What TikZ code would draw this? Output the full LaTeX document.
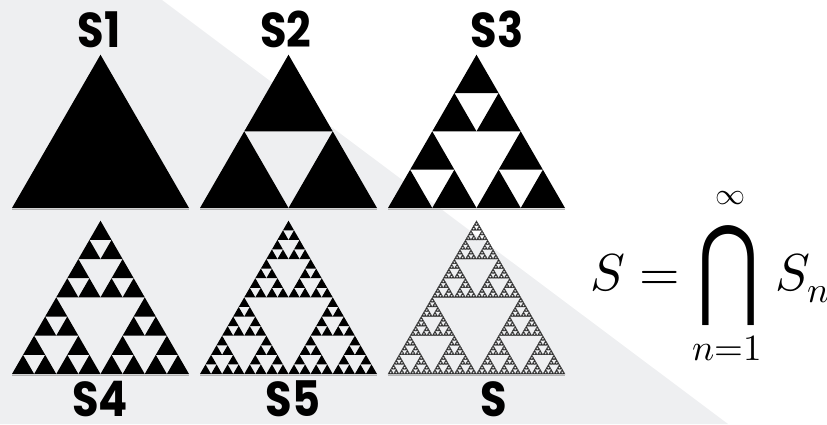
\documentclass[tikz,border=0pt]{standalone}
\usepackage{fontspec}
\usepackage{unicode-math}
\usepackage{tikz}
\newfontfamily\lblfont[FakeStretch=0.88]{Poppins}
\newfontfamily\symfont{DejaVu Sans}
\definecolor{shadegray}{RGB}{238,239,241}

% gasket: depth, left x, base y, side
\newcommand\gasket[4]{%
  \ifnum#1<1\relax
    \fill (#2,#3) -- ++(#4,0) -- ++(120:#4) -- cycle;
  \else
    \begingroup
    \pgfmathtruncatemacro\gdep{#1-1}%
    \pgfmathsetmacro\gside{#4/2}%
    \pgfmathsetmacro\gxr{#2+#4/2}%
    \pgfmathsetmacro\gxt{#2+#4/4}%
    \pgfmathsetmacro\gyt{#3+#4*0.4330127}%
    \edef\gnext{%
      \noexpand\gasket{\gdep}{#2}{#3}{\gside}%
      \noexpand\gasket{\gdep}{\gxr}{#3}{\gside}%
      \noexpand\gasket{\gdep}{\gxt}{\gyt}{\gside}}%
    \gnext
    \endgroup
  \fi}

\begin{document}
\begin{tikzpicture}[
    x=1pt, y=1pt,
    lbl/.style={font=\lblfont\bfseries\fontsize{49}{50}\selectfont,
      inner sep=0pt, anchor=base},
    mth/.style={inner sep=0pt},
    baseln/.style={draw=black!30, line width=1pt},
    limit/.style={fill=black!85, draw=black!70, line width=0.3pt},
  ]
    \useasboundingbox (0,0) rectangle (827,424);

    % --- background ---
    \fill[shadegray] (0,0) -- (0,424) -- (162,424) -- (728,0) -- cycle;

    % --- stages ---
    \foreach \lx in {12,200,388}
      \foreach \by in {216,50}
        \draw[baseln] (\lx,\by-1.5) -- (\lx+177,\by-1.5);
    \gasket{0}{12}{216}{177}
    \gasket{1}{200}{216}{177}
    \gasket{2}{388}{216}{177}
    \gasket{3}{12}{50}{177}
    \gasket{4}{200}{50}{177}
    \begin{scope}[every path/.style={limit}]
      \gasket{6}{388}{50}{177}
    \end{scope}

    % --- labels ---
    \node[lbl] (s1) at (99,376) {S1};
    \node[lbl] (s2) at (286,376) {S2};
    \node[lbl] (s3) at (497,376) {S3};
    \node[lbl] (s4) at (100,8) {S4};
    \node[lbl] (s5) at (293,8) {S5};
    \node[lbl] (s) at (494,8) {S};

    % --- formula ---
    \node[mth, anchor=base west, font=\fontsize{52}{60}\selectfont] (lhs) at (590,134) {$S =$};
    \node[mth] (cap) at (728,148) {\resizebox*{62pt}{100pt}{\symfont ⋂}};
    \node[mth, font=\fontsize{30}{36}\selectfont] (inf) at (730,226) {$\infty$};
    \node[mth, font=\fontsize{37}{44}\selectfont] (low) at (727,76) {$n{=}1$};
    \node[mth, anchor=base west, font=\fontsize{52}{60}\selectfont] (rhs) at (775,134) {$S_n$};
  \end{tikzpicture}
\end{document}
